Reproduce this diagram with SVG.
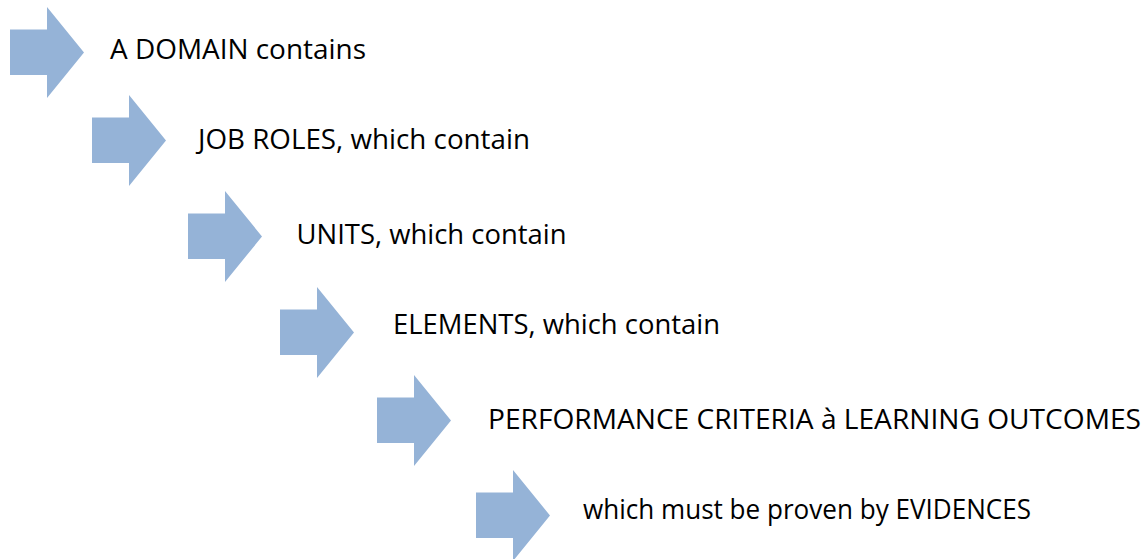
<svg xmlns="http://www.w3.org/2000/svg" width="1148" height="559" viewBox="0 0 1148 559">
<defs>
<style>
.arrow{fill:#95B3D7;stroke:none}
.lbl{font-family:"Open Sans","Noto Sans","Liberation Sans",sans-serif;font-size:28px;fill:#000}
</style>
<path id="arr" d="M0,22.5 H37 V0 L74,45.5 L37,91 V68 H0 Z"/>
</defs>
<rect width="1148" height="559" fill="#fff"/>
<g id="step1"><use href="#arr" class="arrow" x="10" y="7"/><text class="lbl" x="110" y="59" textLength="256" lengthAdjust="spacingAndGlyphs">A DOMAIN contains</text></g>
<g id="step2"><use href="#arr" class="arrow" x="92" y="95"/><text class="lbl" x="198" y="149" textLength="332" lengthAdjust="spacingAndGlyphs">JOB ROLES, which contain</text></g>
<g id="step3"><use href="#arr" class="arrow" x="188" y="191"/><text class="lbl" x="296.5" y="244" textLength="270" lengthAdjust="spacingAndGlyphs">UNITS, which contain</text></g>
<g id="step4"><use href="#arr" class="arrow" x="280" y="287"/><text class="lbl" x="393" y="334" textLength="327" lengthAdjust="spacingAndGlyphs">ELEMENTS, which contain</text></g>
<g id="step5"><use href="#arr" class="arrow" x="377" y="375"/><text class="lbl" x="488" y="429" textLength="653" lengthAdjust="spacingAndGlyphs">PERFORMANCE CRITERIA à LEARNING OUTCOMES</text></g>
<g id="step6"><use href="#arr" class="arrow" x="476" y="470"/><text class="lbl" x="583" y="519" textLength="448" lengthAdjust="spacingAndGlyphs">which must be proven by EVIDENCES</text></g>
<g id="connectors"></g>
</svg>
